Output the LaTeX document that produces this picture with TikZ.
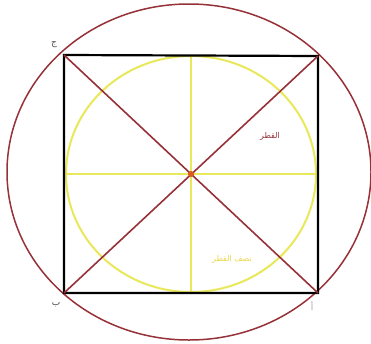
\documentclass[tikz,border=0pt]{standalone}
\usepackage{fontspec}
\newfontfamily\arabicfont[Script=Arabic]{DejaVu Sans}
\TeXXeTstate=1
\definecolor{dred}{RGB}{150,50,55}
\definecolor{ylw}{RGB}{232,232,90}
\definecolor{ctr}{RGB}{220,90,30}
\tikzset{
  outer/.style={draw=dred, line width=1.5pt},
  diag/.style={draw=dred, line width=1.6pt},
  sq/.style={draw=black, line width=2.2pt},
  yl/.style={draw=ylw, line width=2pt},
  lbl/.style={font=\arabicfont\small, text=black!70, inner sep=0pt},
}
\begin{document}
\begin{tikzpicture}[x=1pt,y=-1pt]
\useasboundingbox[fill=white] (0,0) rectangle (371,343);
\coordinate (O) at (191,174);
\coordinate (C) at (64,55);
\coordinate (D) at (318,56);
\coordinate (B) at (64,293);
\coordinate (A) at (318,293);
\coordinate (L) at (66,174);
\coordinate (R) at (316,174);
\coordinate (T) at (191,56);
\coordinate (Bo) at (191,292);
% inner yellow ellipse
\draw[yl] (O) ellipse [x radius=125, y radius=118];
\draw[yl] (L) -- (R);
\draw[yl] (T) -- (Bo);
% outer circle
\draw[outer] (189,172) ellipse [x radius=182, y radius=168];
% square
\draw[sq] (C) -- (D) -- (A) -- (B) -- cycle;
% diagonals
\draw[diag] (C) -- (A);
\draw[diag] (D) -- (B);
\fill[ctr] (O) circle (3);
% labels
\node[lbl] (lj) at (54,45) {\beginR ج\endR};
\node[lbl] (lb) at (56,305) {\beginR ب\endR};
\node[lbl, text=black!35] (la) at (312,306) {\beginR أ\endR};
\node[font=\arabicfont\footnotesize, text=dred, inner sep=0pt] (qt) at (270,136) {\beginR القطر\endR};
\node[font=\arabicfont\footnotesize, text=ylw!85!orange, inner sep=0pt] (nq) at (232,259) {\beginR نصف القطر\endR};
\end{tikzpicture}
\end{document}
